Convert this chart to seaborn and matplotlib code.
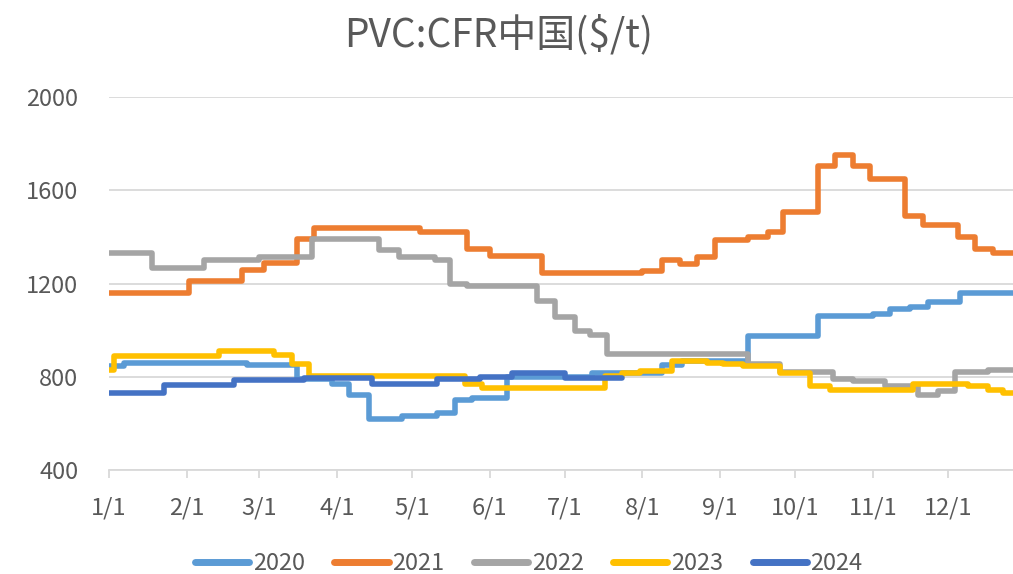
import matplotlib
matplotlib.use("Agg")
import matplotlib.pyplot as plt
import seaborn as sns
import pandas as pd

# ---- data (day of year where a new price level starts, price in $/t) ----
days_2020 = [0, 6, 55, 75, 89, 96, 104, 117, 131, 138, 145, 159, 193, 221, 229, 255, 283, 305, 312, 320, 327, 340, 365]
vals_2020 = [845, 860, 850, 790, 770, 720, 620, 630, 645, 700, 710, 800, 815, 850, 870, 975, 1060, 1070, 1090, 1100, 1120, 1160, 1160]

days_2021 = [0, 32, 53, 62, 75, 82, 124, 143, 152, 173, 213, 221, 228, 235, 242, 255, 263, 269, 283, 290, 297, 304, 318, 325, 339, 346, 353, 365]
vals_2021 = [1160, 1210, 1260, 1290, 1390, 1440, 1420, 1350, 1320, 1245, 1255, 1300, 1285, 1315, 1385, 1400, 1420, 1505, 1705, 1750, 1705, 1650, 1490, 1450, 1400, 1350, 1330, 1330]

days_2022 = [0, 17, 38, 60, 81, 108, 116, 130, 136, 143, 171, 178, 186, 192, 199, 255, 268, 289, 297, 310, 323, 331, 338, 351, 365]
vals_2022 = [1330, 1265, 1300, 1315, 1390, 1345, 1315, 1300, 1200, 1190, 1125, 1055, 995, 980, 900, 855, 820, 790, 780, 760, 720, 740, 820, 830, 830]

days_2023 = [0, 2, 44, 66, 73, 80, 142, 149, 198, 205, 212, 225, 239, 245, 253, 268, 280, 288, 321, 343, 351, 357, 365]
vals_2023 = [830, 890, 910, 895, 855, 805, 770, 750, 805, 815, 825, 870, 860, 855, 845, 815, 760, 745, 770, 760, 745, 730, 730]

days_2024 = [0, 22, 50, 78, 105, 131, 148, 161, 182, 205]
vals_2024 = [730, 765, 785, 795, 770, 790, 800, 815, 795, 795]

years = ["2020", "2021", "2022", "2023", "2024"]
colors = ["#5B9BD5", "#ED7D31", "#A5A5A5", "#FFC000", "#4472C4"]

month_days = [0, 31, 60, 91, 121, 152, 182, 213, 244, 274, 305, 335]
month_labels = ["1/1", "2/1", "3/1", "4/1", "5/1", "6/1", "7/1", "8/1", "9/1", "10/1", "11/1", "12/1"]
y_ticks = [400, 800, 1200, 1600, 2000]
title = "PVC:CFR中国($/t)"

series = {
    "2020": (days_2020, vals_2020),
    "2021": (days_2021, vals_2021),
    "2022": (days_2022, vals_2022),
    "2023": (days_2023, vals_2023),
    "2024": (days_2024, vals_2024),
}
frames = []
for y in years:
    d, v = series[y]
    frames.append(pd.DataFrame({"day": d, "price": v, "year": y}))
df = pd.concat(frames, ignore_index=True)

# ---- plotting ----
sns.set_theme(style="white")
plt.rcParams["font.family"] = ["Noto Sans CJK SC", "DejaVu Sans"]
text_color = "#595959"
grid_color = "#D9D9D9"

fig = plt.figure(figsize=(10.13, 5.74), dpi=100)
ax = fig.add_axes([0.1076, 0.181, 0.8924, 0.650])

sns.lineplot(data=df, x="day", y="price", hue="year", hue_order=years,
             palette=dict(zip(years, colors)), drawstyle="steps-post",
             linewidth=4, estimator=None, sort=False, ax=ax, legend=False,
             solid_capstyle="round", solid_joinstyle="round")

ax.set_xlim(0, 361)
ax.set_ylim(400, 2000)
ax.set_yticks(y_ticks)
ax.set_xticks(month_days)
ax.set_xticklabels(month_labels)
ax.set_xlabel("")
ax.set_ylabel("")

ax.yaxis.grid(True, color=grid_color, linewidth=1.3)
ax.set_axisbelow(True)
for s in ["top", "right", "left"]:
    ax.spines[s].set_visible(False)
ax.spines["bottom"].set_color(grid_color)
ax.spines["bottom"].set_linewidth(1.3)

ax.tick_params(axis="y", length=0, pad=22, labelsize=17, labelcolor=text_color)
ax.tick_params(axis="x", length=6, width=1.3, color=grid_color, direction="out",
               pad=13, labelsize=17, labelcolor=text_color)
ax.xaxis.set_ticks_position("bottom")

fig.text(0.492, 0.939, title, ha="center", va="center", fontsize=28, color=text_color)

handles = [plt.Line2D([0], [0], color=c, linewidth=5, solid_capstyle="round") for c in colors]
fig.legend(handles, years, loc="center", bbox_to_anchor=(0.522, 0.018), ncol=5,
           frameon=False, fontsize=17, handlelength=2.3, handletextpad=0.15,
           columnspacing=1.25, labelcolor=text_color, borderaxespad=0, borderpad=0)

fig.savefig("out.png", dpi=100)
